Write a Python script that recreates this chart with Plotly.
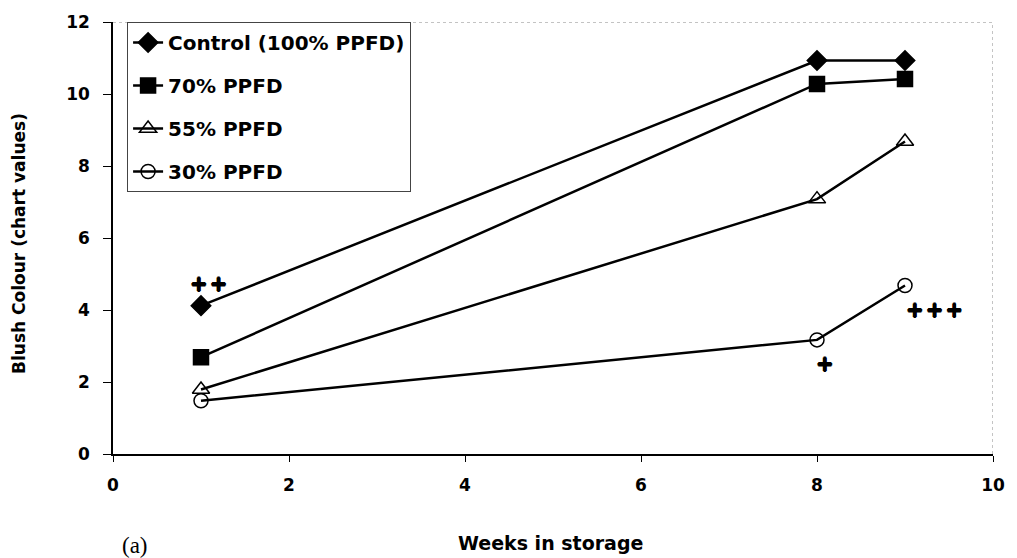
import plotly.graph_objects as go

# Blush colour over storage time for four light levels
weeks = [1, 8, 9]
control_100 = [4.12, 10.93, 10.93]
ppfd_70 = [2.69, 10.28, 10.42]
ppfd_55 = [1.79, 7.08, 8.68]
ppfd_30 = [1.48, 3.17, 4.68]

series_names = ["Control (100% PPFD)", "70% PPFD", "55% PPFD", "30% PPFD"]
series_values = [control_100, ppfd_70, ppfd_55, ppfd_30]
series_symbols = ["diamond", "square", "triangle-up-open", "circle-open"]
series_sizes = [15, 15, 15, 14]

# Significance markers: (week, value, number of plus signs)
sig_weeks = [1.08, 8.09, 9.33]
sig_values = [4.72, 2.49, 3.99]
sig_counts = [2, 1, 3]

x_ticks = [0, 2, 4, 6, 8, 10]
y_ticks = [0, 2, 4, 6, 8, 10, 12]

BOLD = "DejaVu Sans"
HEAVY = "0.7px 0 0 black, -0.7px 0 0 black, 0 0.7px 0 black, 0 -0.7px 0 black"

fig = go.Figure()
for i, (name, vals, sym, sz) in enumerate(zip(series_names, series_values, series_symbols, series_sizes)):
    fig.add_trace(go.Scatter(
        x=weeks, y=vals, name=name, mode="lines+markers",
        legendgroup=f"g{i}",
        line=dict(color="black", width=2.5),
        marker=dict(symbol=sym, size=sz, color="black",
                    line=dict(color="black", width=1.5)),
    ))

for xv, yv, n in zip(sig_weeks, sig_values, sig_counts):
    fig.add_annotation(x=xv, y=yv, text="<b>" + "\u200a".join(["+"] * n) + "</b>",
                       showarrow=False,
                       font=dict(family=BOLD, size=21, color="black", shadow=HEAVY),
                       xanchor="center", yanchor="middle")

# Top and right frame lines (light dotted)
fig.add_shape(type="line", xref="x", yref="y", x0=0, x1=10, y0=12, y1=12,
              line=dict(color="#888888", width=1, dash="dot"))
fig.add_shape(type="line", xref="x", yref="y", x0=10, x1=10, y0=0, y1=12,
              line=dict(color="#888888", width=1, dash="dot"))

fig.add_annotation(text="<b>Blush Colour (chart values)</b>", xref="paper", yref="paper",
                   x=-0.1076, y=0.487, textangle=-90, showarrow=False,
                   font=dict(family=BOLD, size=17, color="black"),
                   xanchor="center", yanchor="middle")
fig.add_annotation(text="<b>Weeks in storage</b>", xref="paper", yref="paper",
                   x=0.497, y=-0.207, showarrow=False,
                   font=dict(family=BOLD, size=19, color="black"),
                   xanchor="center", yanchor="middle")
fig.add_annotation(text="(a)", xref="paper", yref="paper",
                   x=0.025, y=-0.211, showarrow=False,
                   font=dict(family="Liberation Serif", size=23, color="black"),
                   xanchor="center", yanchor="middle")

fig.update_layout(
    width=1017, height=558,
    margin=dict(l=113, r=21, t=15, b=104),
    paper_bgcolor="white", plot_bgcolor="white",
    showlegend=True,
    legend=dict(
        x=0.016, y=1.0, xanchor="left", yanchor="top",
        bgcolor="white", bordercolor="#444444", borderwidth=1,
        font=dict(family=BOLD, size=20, color="black", weight="bold"),
        tracegroupgap=14, itemsizing="trace",
    ),
    xaxis=dict(
        range=[0, 10], tickvals=x_ticks, ticks="outside", ticklen=6,
        tickcolor="black", showline=True, linecolor="black", linewidth=1.5,
        showgrid=False, zeroline=False, ticklabelstandoff=9,
        tickfont=dict(family=BOLD, size=17, color="black", weight="bold"),
    ),
    yaxis=dict(
        range=[0, 12], tickvals=y_ticks, ticks="outside", ticklen=8,
        tickcolor="black", showline=True, linecolor="black", linewidth=1.5,
        showgrid=False, zeroline=False, ticklabelstandoff=10,
        tickfont=dict(family=BOLD, size=17, color="black", weight="bold"),
    ),
)

fig.write_html("out.html")
